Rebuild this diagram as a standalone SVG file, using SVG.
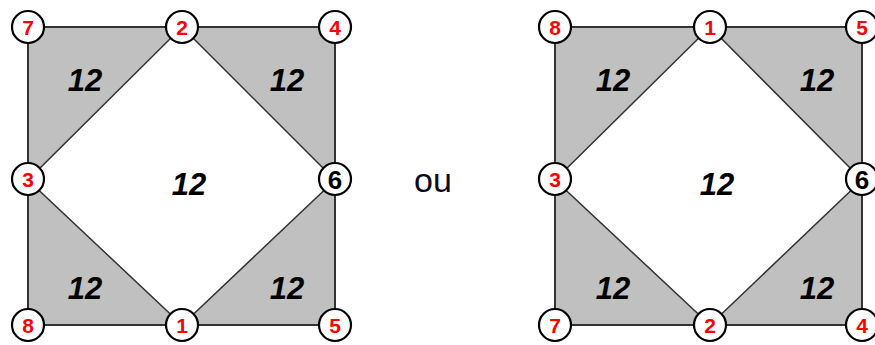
<svg xmlns="http://www.w3.org/2000/svg" width="875" height="345" viewBox="0 0 875 345">
<style>
.sq{fill:#c0c0c0;stroke:#333;stroke-width:2}
.dm{fill:#fff;stroke:#333;stroke-width:1.5}
.nd{fill:#fff;stroke:#000;stroke-width:2.2}
.nl{font-family:"Liberation Sans",Arial,sans-serif;font-weight:bold;font-size:21px;fill:#f00;text-anchor:middle}
.nb{font-family:"Liberation Sans",Arial,sans-serif;font-weight:bold;font-size:26px;fill:#000;text-anchor:middle}
.w{font-family:"Liberation Sans",Arial,sans-serif;font-weight:bold;font-style:italic;font-size:31px;fill:#000;text-anchor:middle}
.ou{font-family:"Liberation Sans",Arial,sans-serif;font-size:34px;fill:#0a0a1e;text-anchor:middle}
</style>
<rect width="875" height="345" fill="#fff"/>
<g id="connectors">
<rect class="sq" x="28" y="27" width="307" height="298"/>
<polygon class="dm" points="182,27 335,180 182,325 28,180"/>
<rect class="sq" x="555" y="27" width="307" height="298"/>
<polygon class="dm" points="710,27 862,180 710,325 555,180"/>
</g>
<g id="weights">
<text class="w" x="85" y="91">12</text>
<text class="w" x="287" y="91">12</text>
<text class="w" x="189" y="195">12</text>
<text class="w" x="85" y="299">12</text>
<text class="w" x="287" y="299">12</text>
<text class="w" x="613" y="91">12</text>
<text class="w" x="817" y="91">12</text>
<text class="w" x="717" y="195">12</text>
<text class="w" x="613" y="299">12</text>
<text class="w" x="817" y="299">12</text>
</g>
<text class="ou" x="433" y="192">ou</text>
<g id="L7"><circle class="nd" cx="28" cy="27" r="16"/><text class="nl" x="28" y="34.5">7</text></g>
<g id="L2"><circle class="nd" cx="182" cy="27" r="16"/><text class="nl" x="182" y="34.5">2</text></g>
<g id="L4"><circle class="nd" cx="335" cy="27" r="16"/><text class="nl" x="335" y="34.5">4</text></g>
<g id="L3"><circle class="nd" cx="28" cy="179" r="16"/><text class="nl" x="28" y="186.5">3</text></g>
<g id="L6"><circle class="nd" cx="335" cy="179" r="16"/><text class="nb" x="335" y="188.5">6</text></g>
<g id="L8"><circle class="nd" cx="28" cy="325" r="16"/><text class="nl" x="28" y="332.5">8</text></g>
<g id="L1"><circle class="nd" cx="182" cy="325" r="16"/><text class="nl" x="182" y="332.5">1</text></g>
<g id="L5"><circle class="nd" cx="335" cy="325" r="16"/><text class="nl" x="335" y="332.5">5</text></g>
<g id="R8"><circle class="nd" cx="555" cy="27" r="16"/><text class="nl" x="555" y="34.5">8</text></g>
<g id="R1"><circle class="nd" cx="710" cy="27" r="16"/><text class="nl" x="710" y="34.5">1</text></g>
<g id="R5"><circle class="nd" cx="862" cy="27" r="16"/><text class="nl" x="862" y="34.5">5</text></g>
<g id="R3"><circle class="nd" cx="555" cy="179" r="16"/><text class="nl" x="555" y="186.5">3</text></g>
<g id="R6"><circle class="nd" cx="862" cy="179" r="16"/><text class="nb" x="862" y="188.5">6</text></g>
<g id="R7"><circle class="nd" cx="555" cy="325" r="16"/><text class="nl" x="555" y="332.5">7</text></g>
<g id="R2"><circle class="nd" cx="710" cy="325" r="16"/><text class="nl" x="710" y="332.5">2</text></g>
<g id="R4"><circle class="nd" cx="862" cy="325" r="16"/><text class="nl" x="862" y="332.5">4</text></g>
</svg>
